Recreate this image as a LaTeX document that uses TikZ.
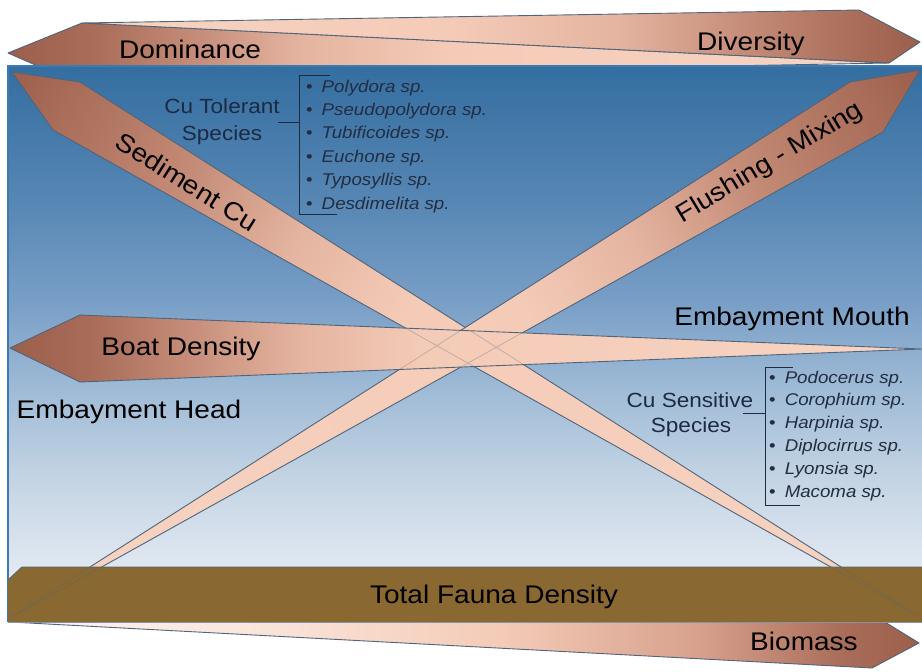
\documentclass[tikz,border=0pt]{standalone}
\usepackage{fontspec}
\newfontfamily\labfont[FakeStretch=1.1]{Liberation Sans}
\definecolor{sB0}{RGB}{155,95,75}
\definecolor{sB1}{RGB}{168,108,88}
\definecolor{sB2}{RGB}{195,138,118}
\definecolor{sB3}{RGB}{228,180,160}
\definecolor{sM}{RGB}{215,160,140}
\definecolor{sP}{RGB}{244,203,183}
\definecolor{sL}{RGB}{247,212,195}
\definecolor{sW2}{RGB}{250,230,220}
\definecolor{sW}{RGB}{252,244,240}
\definecolor{bg0}{RGB}{232,238,244}
\definecolor{bg1}{RGB}{222,230,240}
\definecolor{bg2}{RGB}{196,212,228}
\definecolor{bg3}{RGB}{163,190,216}
\definecolor{bg4}{RGB}{120,158,198}
\definecolor{bg5}{RGB}{86,134,180}
\definecolor{bg6}{RGB}{52,110,160}
\definecolor{edgeC}{RGB}{80,100,122}
\definecolor{barFill}{RGB}{137,104,50}
\definecolor{barTop}{RGB}{95,105,95}
\definecolor{subC}{RGB}{28,42,66}
\definecolor{listC}{RGB}{35,45,65}
\definecolor{rimC}{RGB}{62,122,178}
\pgfdeclarehorizontalshading{domsh}{100bp}{color(0bp)=(sB0); color(25bp)=(sB0); color(29.7bp)=(sB1); color(35.3bp)=(sB2); color(41.6bp)=(sB3); color(50bp)=(sP); color(75bp)=(sL); color(100bp)=(sL)}
\pgfdeclarehorizontalshading{divsh}{100bp}{color(0bp)=(sL); color(25bp)=(sL); color(47bp)=(sP); color(57bp)=(sB3); color(65bp)=(sB2); color(71.4bp)=(sB1); color(75bp)=(sB0); color(100bp)=(sB0)}
\pgfdeclarehorizontalshading{biosh}{100bp}{color(0bp)=(sW); color(25bp)=(sW); color(38bp)=(sW2); color(52bp)=(sP); color(63bp)=(sM); color(71bp)=(sB1); color(75bp)=(sB0); color(100bp)=(sB0)}
\pgfdeclarehorizontalshading{boatsh}{100bp}{color(0bp)=(sB0); color(25bp)=(sB0); color(29.4bp)=(sB1); color(34.3bp)=(sB2); color(40.9bp)=(sB3); color(47.5bp)=(sP); color(75bp)=(sL); color(100bp)=(sL)}
\pgfdeclarehorizontalshading{xsh}{100bp}{color(0bp)=(sB0); color(25bp)=(sB0); color(27.8bp)=(sB1); color(34.4bp)=(sB2); color(40.6bp)=(sB3); color(46.7bp)=(sP); color(75bp)=(sL); color(100bp)=(sL)}
\pgfdeclareverticalshading{bgsh}{100bp}{color(0bp)=(bg0); color(25bp)=(bg0); color(30.6bp)=(bg1); color(37.8bp)=(bg2); color(45bp)=(bg3); color(54bp)=(bg4); color(63bp)=(bg5); color(75bp)=(bg6); color(100bp)=(bg6)}
\begin{document}
\begin{tikzpicture}[x=1pt,y=-1pt,
  edge/.style={draw=edgeC,line width=0.9pt,line join=round},
  faint/.style={draw=edgeC,line width=0.8pt,opacity=0.3},
  lab/.style={font=\labfont\fontsize{25.5}{28}\selectfont,text=black,inner sep=0pt},
  sub/.style={font=\labfont\fontsize{20.5}{24}\selectfont,text=subC,inner sep=0pt,anchor=base},
  item/.style={font=\labfont\fontsize{17}{20}\selectfont,text=listC,inner sep=0pt,anchor=base west},
  brk/.style={draw=subC,line width=0.9pt}]
\fill[white] (0,0) rectangle (922,672);
\useasboundingbox (0,0) rectangle (922,672);
% coordinates
\coordinate (domT) at (8,53);   \coordinate (domU) at (82,23);  \coordinate (domF) at (889,63); \coordinate (domD) at (65,78);
\coordinate (divF) at (82,23);  \coordinate (divU) at (859,10); \coordinate (divT) at (920,42); \coordinate (divD) at (889,63);
\coordinate (bioF) at (10,622); \coordinate (bioU) at (880,619);\coordinate (bioT) at (919,643);\coordinate (bioD) at (872,668);
\coordinate (sedT) at (12,72);  \coordinate (sedU) at (80,82);  \coordinate (sedF) at (918,616);\coordinate (sedD) at (53,130);
\coordinate (fluT) at (920,70); \coordinate (fluU) at (850,82); \coordinate (fluF) at (10,618); \coordinate (fluD) at (883,132);
\coordinate (boatT) at (10,348);\coordinate (boatU) at (80,315);\coordinate (boatF) at (922,349);\coordinate (boatD) at (80,382);
% Biomass wedge
\shadedraw[shading=biosh,edge] (bioF)--(bioU)--(bioT)--(bioD)--cycle;
% top band
\shadedraw[shading=domsh,edge] (domT)--(domU)--(domF)--(domD)--cycle;
\shadedraw[shading=divsh,edge] (divF)--(divU)--(divT)--(divD)--cycle;
% blue background
\shade[shading=bgsh] (8,66) rectangle (922,622);
\draw[rimC,line width=1.2pt] (922,66)--(8,66)--(8,622);
% Sediment Cu wedge
\begin{scope}
  \clip (sedT)--(sedU)--(sedF)--(sedD)--cycle;
  \begin{scope}[transform canvas={shift={(12,72)},rotate=-30.98}]
    \shade[shading=xsh] (0,-150) rectangle (1060,150);
  \end{scope}
\end{scope}
\draw[edge] (sedT)--(sedU)--(sedF)--(sedD)--cycle;
% Flushing wedge
\begin{scope}
  \clip (fluT)--(fluU)--(fluF)--(fluD)--cycle;
  \begin{scope}[transform canvas={shift={(920,70)},rotate=211.06}]
    \shade[shading=xsh] (0,-150) rectangle (1065,150);
  \end{scope}
\end{scope}
\draw[edge] (fluT)--(fluU)--(fluF)--(fluD)--cycle;
% Boat density band
\shadedraw[shading=boatsh,edge] (boatT)--(boatU)--(boatF)--(boatD)--cycle;
\begin{scope}
  \clip (boatT)--(boatU)--(boatF)--(boatD)--cycle;
  \draw[faint] (sedU)--(sedF) (sedD)--(sedF) (fluU)--(fluF) (fluD)--(fluF);
\end{scope}
% Total fauna density bar
\coordinate (barP1) at (8,580); \coordinate (barP2) at (22,567); \coordinate (barP3) at (922,567);
\coordinate (barP4) at (922,622); \coordinate (barP5) at (8,622);
\fill[barFill] (barP1)--(barP2)--(barP3)--(barP4)--(barP5)--cycle;
\begin{scope}
  \clip (barP1)--(barP2)--(barP3)--(barP4)--(barP5)--cycle;
  \draw[faint] (sedU)--(sedF) (sedD)--(sedF) (fluU)--(fluF) (fluD)--(fluF);
\end{scope}
\draw[barTop,line width=1pt] (barP1)--(barP2)--(barP3);
\draw[edgeC!70,line width=1pt] (barP5)--(barP4);
% labels
\node[lab,anchor=base] (dom) at (190,58) {Dominance};
\node[lab,anchor=base] (div) at (751,50) {Diversity};
\node[lab,anchor=base] (boat) at (181,355) {Boat Density};
\node[lab,anchor=base] (head) at (129,418) {Embayment Head};
\node[lab,anchor=base] (mouth) at (792,325) {Embayment Mouth};
\node[lab,anchor=base] (tfd) at (494,603) {Total Fauna Density};
\node[lab,anchor=base] (bio) at (804,650) {Biomass};
\node[lab,rotate=-32] (sed) at (187,182) {Sediment Cu};
\node[lab,rotate=31] (flu) at (770,163) {Flushing - Mixing};
% Cu tolerant
\node[sub] (tol1) at (222,113) {Cu Tolerant};
\node[sub] (tol2) at (222,140) {Species};
\coordinate (tolA) at (330,75); \coordinate (tolB) at (299,75); \coordinate (tolC) at (299,214);
\coordinate (tolD) at (337,214); \coordinate (tolJ) at (299,122); \coordinate (tolS) at (278,122);
\draw[brk] (tolA)--(tolB)--(tolC)--(tolD);
\draw[brk] (tolS)--(tolJ);
\foreach \t [count=\i from 0] in {Polydora sp.,Pseudopolydora sp.,Tubificoides sp.,Euchone sp.,Typosyllis sp.,Desdimelita sp.}
  \node[item] (tolItem\i) at (306,{92+23.4*\i}) {\textbullet\hspace{9pt}\textit{\t}};
% Cu sensitive
\node[sub] (sen1) at (690,407) {Cu Sensitive};
\node[sub] (sen2) at (691,432) {Species};
\coordinate (senA) at (793,367); \coordinate (senB) at (765,367); \coordinate (senC) at (765,505);
\coordinate (senD) at (800,505); \coordinate (senJ) at (765,413); \coordinate (senS) at (743,413);
\draw[brk] (senA)--(senB)--(senC)--(senD);
\draw[brk] (senS)--(senJ);
\foreach \t [count=\i from 0] in {Podocerus sp.,Corophium sp.,Harpinia sp.,Diplocirrus sp.,Lyonsia sp.,Macoma sp.}
  \node[item] (senItem\i) at (769,{383+22.8*\i}) {\textbullet\hspace{9pt}\textit{\t}};
\end{tikzpicture}
\end{document}
